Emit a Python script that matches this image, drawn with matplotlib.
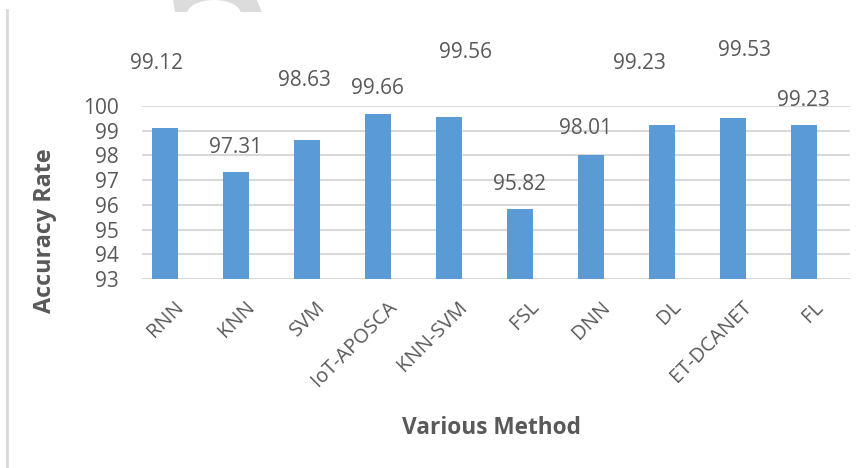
import matplotlib.pyplot as plt
from matplotlib.patches import Polygon, Ellipse
from matplotlib.lines import Line2D
from matplotlib.transforms import ScaledTranslation

# data
methods = ['RNN', 'KNN', 'SVM', 'IoT-APOSCA', 'KNN-SVM', 'FSL', 'DNN', 'DL', 'ET-DCANET', 'FL']
accuracy = [99.12, 97.31, 98.63, 99.66, 99.56, 95.82, 98.01, 99.23, 99.53, 99.23]
yticks = [93, 94, 95, 96, 97, 98, 99, 100]

# where the value labels sit relative to each bar (as in the original)
label_dx = [-0.11, 0.0, -0.03, -0.01, 0.23, -0.01, -0.08, -0.31, 0.17, -0.01]
label_dy = [2.58, 1.03, 2.42, 1.03, 2.59, 1.02, 1.06, 2.47, 2.70, 1.01]

plt.rcParams['font.family'] = ['Open Sans', 'DejaVu Sans']
grey = '#595959'
W, H = 865, 468

fig = plt.figure(figsize=(8.65, 4.68), dpi=100)
ax = fig.add_axes([142 / W, 1 - 279 / H, 708 / W, 173 / H])

x = range(len(methods))
ax.bar(x, accuracy, width=0.36, color='#5b9bd5', zorder=3)
ax.set_ylim(93, 100)
ax.set_xlim(-0.32, 9.65)
ax.set_yticks(yticks)
ax.grid(axis='y', color='#d9d9d9', linewidth=1.5, zorder=0)
for s in ax.spines.values():
    s.set_visible(False)
ax.tick_params(axis='both', length=0, colors=grey)
ax.tick_params(axis='y', pad=17, labelsize=15)
ax.set_xticks(list(x))
ax.set_xticklabels(methods, rotation=45, ha='right', rotation_mode='anchor',
                   fontsize=14.5, color=grey)
ax.tick_params(axis='x', pad=13)
shift = ScaledTranslation(0.09, 0, fig.dpi_scale_trans)
for lab in ax.get_xticklabels():
    lab.set_transform(lab.get_transform() + shift)

for i, v in enumerate(accuracy):
    ax.text(i + label_dx[i], v + label_dy[i], f'{v:.2f}', ha='center', va='center',
            fontsize=15, color=grey, clip_on=False)

ax.set_ylabel('Accuracy Rate', fontsize=16.8, fontweight='bold', color=grey)
ax.yaxis.set_label_coords(-0.12, 0.277)
ax.set_xlabel('Various Method', fontsize=16.3, fontweight='bold', color=grey)
ax.xaxis.set_label_coords(0.493, -0.79)

# page border line and watermark fragment
fig.add_artist(Line2D([7 / W, 7 / W], [0, 1 - 10 / H], color='#d9d9d9', linewidth=2))
fig.add_artist(Polygon([(173 / W, 1), (257 / W, 1), (262 / W, 1 - 12 / H), (175 / W, 1 - 12 / H)],
                       closed=True, facecolor='#dcdcdc', edgecolor='none', zorder=0))
fig.add_artist(Ellipse((214 / W, 1 - 14 / H), 54 / W, 28 / H, facecolor='white',
                       edgecolor='none', zorder=0.5))

fig.savefig('out.png', dpi=100)
